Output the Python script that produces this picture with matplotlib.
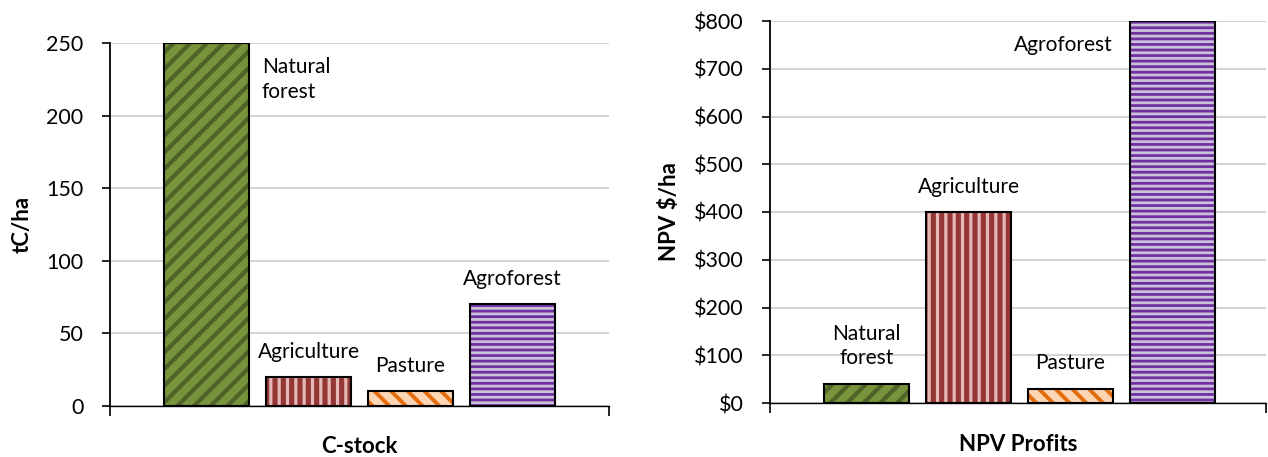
import numpy as np
import matplotlib
matplotlib.use("Agg")
import matplotlib.pyplot as plt
from matplotlib.ticker import FuncFormatter

plt.rcParams['font.family'] = ['Lato', 'DejaVu Sans']

# data
land_uses = ['Natural\nforest', 'Agriculture', 'Pasture', 'Agroforest']
cstock = [250, 20, 10, 70]
npv = [40, 400, 30, 800]
cstock_ticks = [0, 50, 100, 150, 200, 250]
npv_ticks = [0, 100, 200, 300, 400, 500, 600, 700, 800]

# fill style per land use: base colour, stripe colour, hatch, stripe width
bases = ['#77933C', '#953735', '#FCD5B5', '#7030A0']
stripes = ['#4F6228', '#E6B9B8', '#E46C0A', '#CCC1DA']
hatches = ['//', '||', '\\\\', '---']
hatch_lw = [3.0, 2.3, 2.8, 2.0]

fig = plt.figure(figsize=(12.68, 4.57), dpi=100)
ax1 = fig.add_axes([110/1268, 1-406/457, 499/1268, 363/457])
ax2 = fig.add_axes([770/1268, 1-403/457, 496/1268, 382/457])

x = np.arange(len(land_uses))
w = 0.835


def draw_bars(ax, vals):
    for i in range(len(vals)):
        with plt.rc_context({'hatch.linewidth': hatch_lw[i]}):
            b = ax.bar(x[i], vals[i], w, color=bases[i], edgecolor=stripes[i],
                       hatch=hatches[i], linewidth=0, zorder=2)
        for p in b:
            if hasattr(p, 'set_hatch_linewidth'):
                p.set_hatch_linewidth(hatch_lw[i])
    ax.bar(x, vals, w, fill=False, edgecolor='black', linewidth=1.5, zorder=3)


def style_axis(ax, ticks, xlim):
    ax.set_xlim(*xlim)
    ax.set_ylim(ticks[0], ticks[-1])
    ax.set_yticks(ticks)
    ax.set_xticks(list(xlim))
    ax.set_xticklabels(['', ''])
    ax.tick_params(axis='y', direction='out', length=6, width=1.2, pad=13, labelsize=15.5)
    ax.tick_params(axis='x', direction='out', length=7, width=1.2)
    for s in ['top', 'right']:
        ax.spines[s].set_visible(False)
    ax.spines['left'].set_linewidth(1.3)
    ax.spines['bottom'].set_linewidth(1.0)
    ax.grid(axis='y', color='#D0D0D0', linewidth=1.3, zorder=0)
    ax.set_axisbelow(True)


draw_bars(ax1, cstock)
style_axis(ax1, cstock_ticks, (-0.95, 3.95))
ax1.set_ylabel('tC/ha', fontsize=16, fontweight='bold', labelpad=10)
ax1.set_xlabel('C-stock', fontsize=16, fontweight='bold', labelpad=11)

draw_bars(ax2, npv)
style_axis(ax2, npv_ticks, (-0.95, 3.92))
ax2.yaxis.set_major_formatter(FuncFormatter(lambda v, pos: f'${v:.0f}'))
ax2.set_ylabel('NPV $/ha', fontsize=16, fontweight='bold', labelpad=10)
ax2.set_xlabel('NPV Profits', fontsize=16, fontweight='bold', labelpad=12)

# data labels
for i, name in enumerate(land_uses):
    if i == 0:
        ax1.annotate(name, (x[i] + w/2, cstock[i]), xytext=(9, -10),
                     textcoords='offset points', ha='left', va='top', fontsize=15,
                     linespacing=1.3)
    else:
        ax1.annotate(name, (x[i], cstock[i]), xytext=(0, 14),
                     textcoords='offset points', ha='center', va='baseline', fontsize=15)
for i, name in enumerate(land_uses):
    if i == 3:
        ax2.annotate(name, (x[i] - w/2, npv[i]), xytext=(-12, -10),
                     textcoords='offset points', ha='right', va='top', fontsize=15)
    else:
        ax2.annotate(name, (x[i], npv[i]), xytext=(0, 14),
                     textcoords='offset points', ha='center', va='baseline', fontsize=15,
                     linespacing=1.3, multialignment='center')

fig.savefig('out.png', dpi=100)
